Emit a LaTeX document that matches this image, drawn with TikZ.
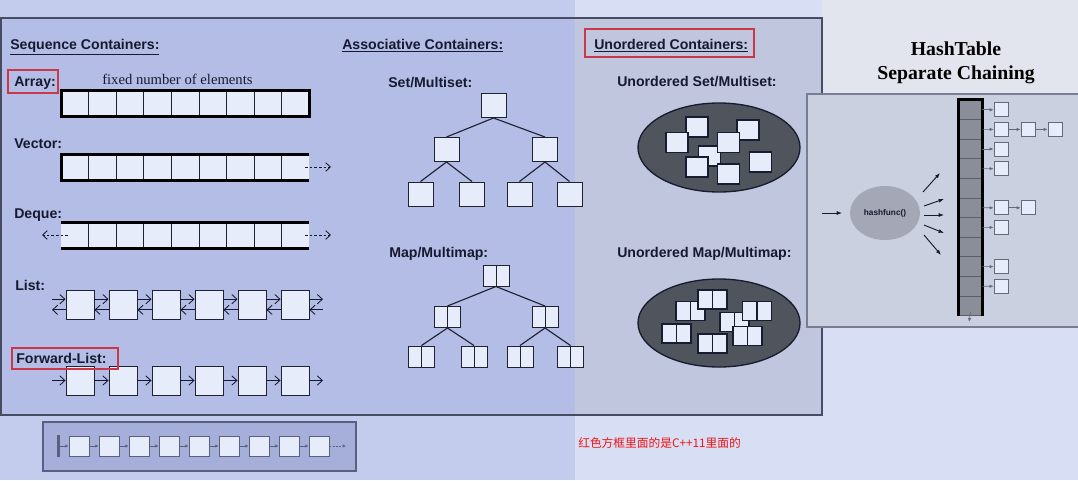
\documentclass[tikz,border=0pt]{standalone}
\usepackage{fontspec}
\setmainfont{Liberation Serif}
\setsansfont{Liberation Sans}
\newfontfamily\cjk{Noto Sans CJK SC}
\usetikzlibrary{arrows.meta,shapes.geometric}
\definecolor{bgL}{RGB}{196,204,238}
\definecolor{bgR}{RGB}{216,222,244}
\definecolor{bgTR}{RGB}{226,229,238}
\definecolor{panelL}{RGB}{180,189,230}
\definecolor{panelR}{RGB}{192,198,222}
\definecolor{panelborder}{RGB}{70,76,100}
\definecolor{htpanel}{RGB}{203,208,224}
\definecolor{htborder}{RGB}{120,126,146}
\definecolor{cellfill}{RGB}{230,236,250}
\definecolor{cellline}{RGB}{30,34,50}
\definecolor{ink}{RGB}{22,26,48}
\definecolor{redbox}{RGB}{200,56,72}
\definecolor{ellfill}{RGB}{80,84,92}
\definecolor{ellline}{RGB}{24,28,48}
\definecolor{bucketfill}{RGB}{138,142,152}
\definecolor{bucketline}{RGB}{90,94,104}
\definecolor{hffill}{RGB}{164,168,182}
\definecolor{chainline}{RGB}{100,106,124}
\definecolor{stripfill}{RGB}{166,175,218}
\definecolor{stripline}{RGB}{90,96,128}
\definecolor{redtext}{RGB}{240,20,20}
\tikzset{
  acell/.style={draw=cellline, fill=cellfill, line width=0.6pt, minimum width=20.7pt, minimum height=19.5pt, inner sep=0, outer sep=0},
  acellnd/.style={fill=cellfill, minimum width=20.7pt, minimum height=19.5pt, inner sep=0, outer sep=0},
  framebar/.style={line width=2.25pt, draw=black},
  lbox/.style={draw=cellline, fill=cellfill, line width=0.7pt, minimum width=21pt, minimum height=21.75pt, inner sep=0},
  tbox/.style={draw=cellline, fill=cellfill, line width=0.75pt, minimum width=18.75pt, minimum height=18pt, inner sep=0},
  pairbox/.style={draw=cellline, fill=cellfill, line width=0.75pt, minimum width=19.5pt, minimum height=15.75pt, inner sep=0,
    path picture={\draw[cellline, line width=0.75pt] (path picture bounding box.north) -- (path picture bounding box.south);}},
  uobox/.style={draw=ellline, fill=cellfill, line width=1.1pt, minimum width=16.5pt, minimum height=15pt, inner sep=0},
  uopair/.style={draw=ellline, fill=cellfill, line width=1.1pt, minimum width=21.75pt, minimum height=14.25pt, inner sep=0,
    path picture={\draw[ellline, line width=1.1pt] (path picture bounding box.north) -- (path picture bounding box.south);}},
  edge/.style={draw=cellline, line width=0.85pt},
  barb/.style={draw=ink, line width=0.65pt, -{Straight Barb[length=3.8pt,width=7pt]}},
  dbarb/.style={draw=ink, line width=0.65pt, dash pattern=on 2pt off 1.5pt, -{Straight Barb[length=3.5pt,width=6.5pt]}},
  lab/.style={font=\sffamily\bfseries\fontsize{10.6}{12}\selectfont, text=ink, anchor=base west, inner sep=0},
  red frame/.style={draw=redbox, line width=1.5pt},
  bucket/.style={draw=bucketline, fill=bucketfill, line width=0.5pt, minimum width=17.25pt, minimum height=14.7pt, inner sep=0},
  hsq/.style={draw=chainline, fill=cellfill, line width=0.5pt, minimum width=10.5pt, minimum height=10.5pt, inner sep=0},
  charr/.style={draw=chainline, line width=0.5pt, -{Latex[length=3pt,width=2.5pt]}},
  harr/.style={draw=ink, line width=0.7pt, -{Latex[length=4pt,width=3pt]}},
  ssq/.style={draw=stripline, fill=cellfill, line width=0.6pt, minimum width=15pt, minimum height=15pt, inner sep=0},
  sarr/.style={draw=stripline, line width=0.5pt, -{Latex[length=2.5pt,width=2.5pt]}},
}
\begin{document}
\begin{tikzpicture}[x=0.75pt,y=-0.75pt]
\useasboundingbox (0,0) rectangle (1078,480);
% backgrounds
\fill[bgL] (0,0) rectangle (575,480);
\fill[bgR] (575,0) rectangle (1078,480);
\fill[bgTR] (822,0) rectangle (1078,93);
\fill[panelL] (1,18) rectangle (575,415);
\fill[panelR] (575,18) rectangle (822,415);
\draw[panelborder, line width=1.1pt] (1,18) rectangle (822,415);

% ---------- Sequence containers ----------
\node[lab] (seqh) at (10,49) {\underline{Sequence Containers:}};
\node[lab] (arrl) at (14,86) {Array:};
\node[font=\fontsize{11}{13}\selectfont, text=ink, anchor=base west, inner sep=0] (fixed) at (102,84) {fixed number of elements};
\node[lab] (vecl) at (14,148) {Vector:};
\node[lab] (deql) at (14,218) {Deque:};
\node[lab] (lstl) at (15,290) {List:};
\node[lab] (fwdl) at (16,363) {Forward-List:};

% Array
\foreach \i in {1,...,9} {
  \node[acell] (a\i) at ({61+27.6*(\i-0.5)},103) {};
}
\draw[framebar] (a1.north west) rectangle (a9.south east);

% Vector
\foreach \i in {1,...,8} {
  \node[acell] (v\i) at ({61+27.6*(\i-0.5)},167) {};
}
\node[acellnd] (v9) at ({61+27.6*8.5},167) {};
\draw[framebar] (v9.north east) -- (v1.north west) -- (v1.south west) -- (v9.south east);
\coordinate (vA) at (305,167);
\coordinate (vB) at (331,167);
\draw[dbarb] (vA) -- (vB);

% Deque
\node[acellnd] (d1) at ({61+27.6*0.5},235) {};
\foreach \i in {2,...,8} {
  \node[acell] (d\i) at ({61+27.6*(\i-0.5)},235) {};
}
\node[acellnd] (d9) at ({61+27.6*8.5},235) {};
\draw[framebar] (d1.north west) -- (d9.north east);
\draw[framebar] (d1.south west) -- (d9.south east);
\coordinate (dA) at (305,235);
\coordinate (dB) at (331,235);
\coordinate (dC) at (68,235);
\coordinate (dD) at (42,235);
\draw[dbarb] (dA) -- (dB);
\draw[dbarb] (dC) -- (dD);

% List and forward list
\foreach \i/\x in {1/80,2/123,3/166,4/209,5/252,6/295} {
  \node[lbox] (l\i) at (\x,304.5) {};
  \node[lbox] (f\i) at (\x,380.5) {};
}
\foreach \i/\j in {1/2,2/3,3/4,4/5,5/6} {
  \draw[barb] ([yshift=4pt]l\i.east) -- ([yshift=4pt]l\j.west);
  \draw[barb] ([yshift=-4pt]l\j.west) -- ([yshift=-4pt]l\i.east);
  \draw[barb] (f\i.east) -- (f\j.west);
}
\coordinate (lL) at (52,304.5);
\coordinate (lR) at (323,304.5);
\draw[barb] ([yshift=4pt]lL) -- ([yshift=4pt]l1.west);
\draw[barb] ([yshift=-4pt]l1.west) -- ([yshift=-4pt]lL);
\draw[barb] ([yshift=4pt]l6.east) -- ([yshift=4pt]lR);
\draw[barb] ([yshift=-4pt]lR) -- ([yshift=-4pt]l6.east);
\coordinate (fL) at (52,380.5);
\coordinate (fR) at (323,380.5);
\draw[barb] (fL) -- (f1.west);
\draw[barb] (f6.east) -- (fR);

% ---------- Associative containers ----------
\node[lab] (assh) at (342,49) {\underline{Associative Containers:}};
\node[lab] (setl) at (388,87) {Set/Multiset:};
\node[lab] (mapl) at (389,257) {Map/Multimap:};

\node[tbox] (s0) at (493.5,105.5) {};
\node[tbox] (sL) at (446.5,149.5) {};
\node[tbox] (sR) at (545,149.5) {};
\node[tbox] (sLL) at (420.5,194) {};
\node[tbox] (sLR) at (472,194) {};
\node[tbox] (sRL) at (519.5,194) {};
\node[tbox] (sRR) at (569.5,194) {};
\draw[edge] (s0.south) -- (sL.north);
\draw[edge] (s0.south) -- (sR.north);
\draw[edge] (sL.south) -- (sLL.north);
\draw[edge] (sL.south) -- (sLR.north);
\draw[edge] (sR.south) -- (sRL.north);
\draw[edge] (sR.south) -- (sRR.north);

\node[pairbox] (m0) at (496,275.5) {};
\node[pairbox] (mL) at (447.5,317) {};
\node[pairbox] (mR) at (545,317) {};
\node[pairbox] (mLL) at (421.5,356.5) {};
\node[pairbox] (mLR) at (474,356.5) {};
\node[pairbox] (mRL) at (520,356.5) {};
\node[pairbox] (mRR) at (570.5,356.5) {};
\draw[edge] (m0.south) -- (mL.north);
\draw[edge] (m0.south) -- (mR.north);
\draw[edge] (mL.south) -- (mLL.north);
\draw[edge] (mL.south) -- (mLR.north);
\draw[edge] (mR.south) -- (mRL.north);
\draw[edge] (mR.south) -- (mRR.north);

% ---------- Unordered containers ----------
\node[lab] (unoh) at (594,49) {\underline{Unordered Containers:}};
\node[lab] (usetl) at (617,86) {Unordered Set/Multiset:};
\node[lab] (umapl) at (617,257) {Unordered Map/Multimap:};

\node[ellipse, draw=ellline, fill=ellfill, line width=1pt, minimum width=121.5pt, minimum height=66.75pt, inner sep=0] (uset) at (719,147.5) {};
\node[uobox] (u1) at (697,127) {};
\node[uobox] (u2) at (677,142.5) {};
\node[uobox] (u3) at (748,130) {};
\node[uobox] (u5) at (709.5,156) {};
\node[uobox] (u4) at (728.5,142.5) {};
\node[uobox] (u6) at (697,167) {};
\node[uobox] (u7) at (728.5,174) {};
\node[uobox] (u8) at (760.5,162) {};

\node[ellipse, draw=ellline, fill=ellfill, line width=1pt, minimum width=121.5pt, minimum height=66pt, inner sep=0] (umap) at (719,323) {};
\node[uopair] (p1) at (690.5,311) {};
\node[uopair] (p2) at (712.5,299.5) {};
\node[uopair] (p3) at (676.5,333.5) {};
\node[uopair] (p4) at (712.5,343.5) {};
\node[uopair] (p5) at (734.5,322) {};
\node[uopair] (p6) at (757,311) {};
\node[uopair] (p7) at (747.5,336) {};

% ---------- HashTable ----------
\node[font=\bfseries\fontsize{14.8}{17}\selectfont, text=black, anchor=base, inner sep=0] (ht1) at (956,55) {HashTable};
\node[font=\bfseries\fontsize{14.8}{17}\selectfont, text=black, anchor=base, inner sep=0] (ht2) at (956,79) {Separate Chaining};
\fill[htpanel] (807,94) rectangle (1078,327);
\draw[htborder, line width=1pt] (1080,94) -- (807,94) -- (807,327) -- (1080,327);

\foreach \i in {1,...,11} {
  \node[bucket] (b\i) at (970.5,{100+19.6*(\i-0.5)}) {};
}
\draw[line width=2.25pt, black] (b11.south west) -- (b1.north west) -- (b1.north east) -- (b11.south east);
\coordinate (bdown) at (969,322);
\draw[charr] ([yshift=3pt]b11.south) -- (bdown);

\node[hsq] (c1a) at (1001,109.8) {};
\node[hsq] (c2a) at (1001,129.4) {};
\node[hsq] (c2b) at (1028,129.4) {};
\node[hsq] (c2c) at (1055,129.4) {};
\node[hsq] (c3a) at (1001,149) {};
\node[hsq] (c4a) at (1001,168.6) {};
\node[hsq] (c6a) at (1001,207.8) {};
\node[hsq] (c6b) at (1028,207.8) {};
\node[hsq] (c7a) at (1001,227.4) {};
\node[hsq] (c9a) at (1001,266.6) {};
\node[hsq] (c10a) at (1001,286.2) {};
\draw[charr] (b1.east) -- (c1a.west);
\draw[charr] (b2.east) -- (c2a.west);
\draw[charr] (c2a.east) -- (c2b.west);
\draw[charr] (c2b.east) -- (c2c.west);
\draw[charr] (b3.east) -- (c3a.west);
\draw[charr] (b4.east) -- (c4a.west);
\draw[charr] (b6.east) -- (c6a.west);
\draw[charr] (c6a.east) -- (c6b.west);
\draw[charr] (b7.east) -- (c7a.west);
\draw[charr] (b9.east) -- (c9a.west);
\draw[charr] (b10.east) -- (c10a.west);

\node[ellipse, fill=hffill, minimum width=52.5pt, minimum height=40.5pt, inner sep=0,
      font=\sffamily\bfseries\fontsize{6.2}{7}\selectfont, text=ink] (hf) at (885,213) {hashfunc()};
\coordinate (hin) at (822,213);
\coordinate (hin2) at (842,213);
\draw[harr] (hin) -- (hin2);
\coordinate (h1s) at (923,192); \coordinate (h1e) at (940,173);
\coordinate (h2s) at (924,206); \coordinate (h2e) at (944,199);
\coordinate (h3s) at (924,215); \coordinate (h3e) at (944,215);
\coordinate (h4s) at (924,225); \coordinate (h4e) at (944,233);
\coordinate (h5s) at (924,235); \coordinate (h5e) at (941,255);
\draw[harr] (h1s) -- (h1e);
\draw[harr] (h2s) -- (h2e);
\draw[harr] (h3s) -- (h3e);
\draw[harr] (h4s) -- (h4e);
\draw[harr] (h5s) -- (h5e);

% ---------- bottom strip ----------
\node[draw=stripline, fill=stripfill, line width=0.8pt, minimum width=234.75pt, minimum height=36.75pt, inner sep=0] (strip) at (199.5,446.5) {};
\coordinate (barT) at (58,435);
\coordinate (barB) at (58,457);
\draw[line width=2.25pt, stripline] (barT) -- (barB);
\foreach \i in {1,...,9} {
  \node[ssq] (q\i) at ({79+30*(\i-1)},446) {};
}
\coordinate (barM) at (59,446);
\draw[sarr] (barM) -- (q1.west);
\foreach \i/\j in {1/2,2/3,3/4,4/5,5/6,6/7,7/8,8/9} {
  \draw[sarr] (q\i.east) -- (q\j.west);
}
\coordinate (qEnd) at (346,446);
\draw[sarr, dash pattern=on 1.5pt off 1pt] (q9.east) -- (qEnd);

% ---------- red frames ----------
\draw[red frame] (8,70) rectangle (58,93);
\draw[red frame] (12,348) rectangle (118,369);
\draw[red frame] (585,29) rectangle (754,57);

\node[font=\cjk\fontsize{8.8}{10}\selectfont, text=redtext, anchor=west, inner sep=0] (note) at (578,443) {红色方框里面的是C++11里面的};
\end{tikzpicture}
\end{document}
